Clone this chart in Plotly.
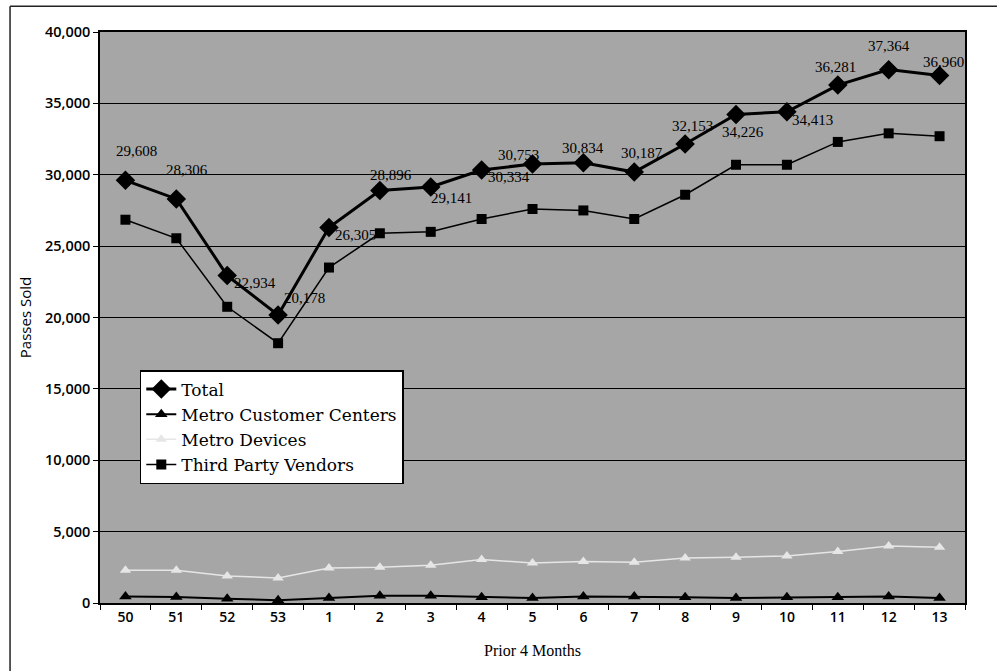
import plotly.graph_objects as go

# Period labels along the x axis (four-week periods)
periods = ["50", "51", "52", "53", "1", "2", "3", "4", "5", "6", "7", "8", "9", "10", "11", "12", "13"]

# Passes sold per channel
total = [29608, 28306, 22934, 20178, 26305, 28896, 29141, 30334, 30753, 30834,
         30187, 32153, 34226, 34413, 36281, 37364, 36960]
customer_centers = [450, 420, 300, 200, 350, 500, 500, 400, 350, 450,
                    450, 400, 350, 400, 400, 450, 350]
metro_devices = [2300, 2300, 1900, 1750, 2450, 2500, 2650, 3050, 2800, 2900,
                 2850, 3150, 3200, 3300, 3600, 4000, 3900]
third_party = [26850, 25550, 20750, 18200, 23500, 25900, 26000, 26900, 27600, 27500,
               26900, 28600, 30700, 30700, 32300, 32900, 32700]

# Pixel offsets for the value labels on the Total line
label_shift = [(11, 29), (11, 29), (28, -7), (26, 17), (27, -7), (11, 16), (21, -11),
               (27, -7), (-14, 9), (0, 15), (8, 19), (7, 18), (7, -18), (26, -8),
               (-2, 18), (0, 24), (4, 13)]

serif = "Liberation Serif, Times New Roman, serif"
wide_serif = "DejaVu Serif, serif"
sans = "Open Sans, Noto Sans, sans-serif"

fig = go.Figure()

fig.add_trace(go.Scatter(
    x=periods, y=total, name="Total", mode="lines+markers",
    line=dict(color="black", width=3),
    marker=dict(symbol="diamond", size=15, color="black"),
))
fig.add_trace(go.Scatter(
    x=periods, y=customer_centers, name="Metro Customer Centers", mode="lines+markers",
    line=dict(color="black", width=2),
    marker=dict(symbol="triangle-up", size=11, color="black"),
))
fig.add_trace(go.Scatter(
    x=periods, y=metro_devices, name="Metro Devices", mode="lines+markers",
    line=dict(color="#e6e6e6", width=1.5),
    marker=dict(symbol="triangle-up", size=10, color="#e6e6e6"),
))
fig.add_trace(go.Scatter(
    x=periods, y=third_party, name="Third Party Vendors", mode="lines+markers",
    line=dict(color="black", width=1.5),
    marker=dict(symbol="square", size=10, color="black"),
))

# Value labels for the Total series (category index positions on the x axis)
for i, (v, (dx, dy)) in enumerate(zip(total, label_shift)):
    fig.add_annotation(
        x=i, y=v, text=f"{v:,}", showarrow=False,
        xshift=dx, yshift=dy,
        font=dict(family=serif, size=15, color="black"),
    )

# Outer frame of the chart
fig.add_shape(type="line", xref="paper", yref="paper",
              x0=-0.104, x1=-0.104, y0=-0.12, y1=1.045,
              line=dict(color="#222222", width=1.5))
fig.add_shape(type="line", xref="paper", yref="paper",
              x0=-0.104, x1=1.04, y0=1.045, y1=1.045,
              line=dict(color="#222222", width=1.5))

fig.update_layout(
    width=997, height=671,
    margin=dict(l=100, r=32, t=32, b=68),
    paper_bgcolor="white",
    plot_bgcolor="#a6a6a6",
    showlegend=True,
    legend=dict(
        x=0.046, y=0.408, xanchor="left", yanchor="top",
        bgcolor="white", bordercolor="black", borderwidth=1.5,
        font=dict(family=wide_serif, size=17, color="black"),
        tracegroupgap=0, itemwidth=30,
    ),
    xaxis=dict(
        type="category", range=[-0.5, 16.5],
        showline=True, linecolor="black", linewidth=1.5, mirror=True,
        ticks="outside", tickson="boundaries", ticklen=5, tickcolor="black",
        showgrid=False,
        tickfont=dict(family=sans, size=14, color="black", weight=600),
        title=dict(text="Prior 4 Months", font=dict(family=serif, size=16, color="black"),
                   standoff=20),
    ),
    yaxis=dict(
        range=[0, 40000], dtick=5000, tickformat=",",
        showline=True, linecolor="black", linewidth=1.5, mirror=True,
        ticks="outside", ticklen=5, tickcolor="black",
        showgrid=True, gridcolor="black", gridwidth=1,
        zeroline=False,
        tickfont=dict(family=sans, size=14.5, color="black", weight=600),
        title=dict(text="Passes Sold", font=dict(family=sans, size=15, color="black"),
                   standoff=10),
    ),
)

fig.write_html("out.html")
